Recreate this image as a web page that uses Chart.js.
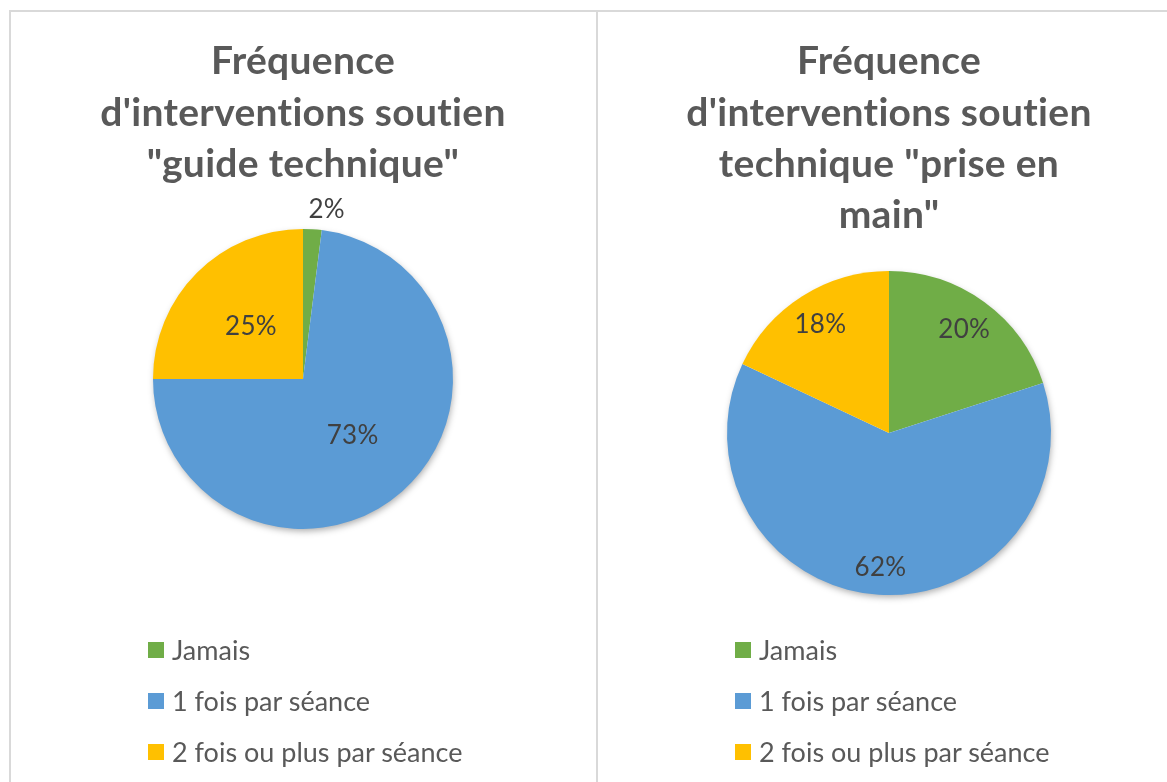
<!DOCTYPE html>
<html>
<head>
<meta charset="utf-8">
<script src="https://cdn.jsdelivr.net/npm/chart.js@4.4.0/dist/chart.umd.min.js"></script>
<style>
  html, body { margin: 0; padding: 0; background: #fff; overflow: hidden; }
  body { width: 1167px; height: 782px; position: relative; font-family: Lato, "Open Sans", sans-serif; }
  .frame { position: absolute; left: 9px; top: 10px; width: 1200px; height: 800px;
           border-left: 2px solid #d9d9d9; border-top: 2px solid #d9d9d9; }
  .divider { position: absolute; left: 596px; top: 10px; width: 2px; height: 800px; background: #d9d9d9; }
  .panel { position: absolute; top: 10px; }
  .legend { position: absolute; top: 624px; color: #595959; font-size: 27px; }
  .legend .row { height: 51px; display: flex; align-items: center; white-space: nowrap; }
  .legend .box { width: 16px; height: 16px; margin-right: 8px; flex: none; }
</style>
</head>
<body>
<div class="frame"></div>
<div class="divider"></div>
<canvas id="guideChart" class="panel" style="left:10px" width="586" height="620"></canvas>
<canvas id="priseChart" class="panel" style="left:598px" width="582" height="620"></canvas>
<div id="guideLegend" class="legend" style="left:148px"></div>
<div id="priseLegend" class="legend" style="left:735px"></div>
<script>
const categories = ['Jamais', '1 fois par séance', '2 fois ou plus par séance'];
const guideValues = [2, 73, 25];
const priseValues = [20, 62, 18];
const guideTitle = ['Fréquence', "d'interventions soutien", '"guide technique"'];
const priseTitle = ['Fréquence', "d'interventions soutien", 'technique "prise en', 'main"'];
const colors = ['#70AD47', '#5B9BD5', '#FFC000'];

// shadow under the pie + percentage labels
const pieExtras = {
  id: 'pieExtras',
  beforeDraw(chart) {
    // small spacing so Lato doesn't use its "ti" ligature
    chart.ctx.letterSpacing = '0.3px';
  },
  beforeDatasetsDraw(chart) {
    const arc = chart.getDatasetMeta(0).data[0];
    const ctx = chart.ctx;
    ctx.save();
    ctx.shadowColor = 'rgba(0,0,0,0.35)';
    ctx.shadowBlur = 7;
    ctx.shadowOffsetX = 1;
    ctx.shadowOffsetY = 3;
    ctx.beginPath();
    ctx.arc(arc.x, arc.y, arc.outerRadius - 1, 0, Math.PI * 2);
    ctx.fillStyle = '#ffffff';
    ctx.fill();
    ctx.restore();
  },
  afterDatasetsDraw(chart, args, opts) {
    const meta = chart.getDatasetMeta(0);
    const values = chart.data.datasets[0].data;
    const total = values.reduce((a, b) => a + b, 0);
    const ctx = chart.ctx;
    ctx.save();
    ctx.font = '26px Lato';
    ctx.fillStyle = '#404040';
    ctx.textAlign = 'center';
    ctx.textBaseline = 'middle';
    meta.data.forEach((arc, i) => {
      const p = opts.place[i];
      const mid = (arc.startAngle + arc.endAngle) / 2;
      const r = arc.outerRadius * p.r;
      const pct = Math.round(values[i] / total * 100) + '%';
      ctx.fillText(pct, arc.x + Math.cos(mid) * r + (p.dx || 0), arc.y + Math.sin(mid) * r + (p.dy || 0));
    });
    ctx.restore();
  }
};

function makePie(id, values, title, radius, bottomPad, place) {
  return new Chart(document.getElementById(id), {
    type: 'pie',
    data: {
      labels: categories,
      datasets: [{
        data: values,
        backgroundColor: colors,
        borderWidth: 0,
        hoverOffset: 0,
        radius: radius
      }]
    },
    options: {
      responsive: false,
      animation: false,
      layout: { padding: { bottom: bottomPad } },
      plugins: {
        legend: { display: false },
        tooltip: { enabled: false },
        title: {
          display: true,
          text: title,
          color: '#595959',
          font: { family: 'Lato', size: 39, weight: 'bold', lineHeight: 1.315 },
          padding: { top: 26, bottom: 10 }
        },
        pieExtras: { place: place }
      }
    },
    plugins: [pieExtras]
  });
}

function makeLegend(id, chart) {
  const el = document.getElementById(id);
  chart.data.labels.forEach((lbl, i) => {
    const row = document.createElement('div');
    row.className = 'row';
    const box = document.createElement('span');
    box.className = 'box';
    box.style.background = chart.data.datasets[0].backgroundColor[i];
    row.appendChild(box);
    row.appendChild(document.createTextNode(lbl));
    el.appendChild(row);
  });
}

const guideChart = makePie('guideChart', guideValues, guideTitle, 150, 72,
  [{ r: 1.13, dx: 13 }, { r: 0.5 }, { r: 0.49 }]);
const priseChart = makePie('priseChart', priseValues, priseTitle, 162, 15,
  [{ r: 0.79 }, { r: 0.83 }, { r: 0.79 }]);

makeLegend('guideLegend', guideChart);
makeLegend('priseLegend', priseChart);
</script>
</body>
</html>
